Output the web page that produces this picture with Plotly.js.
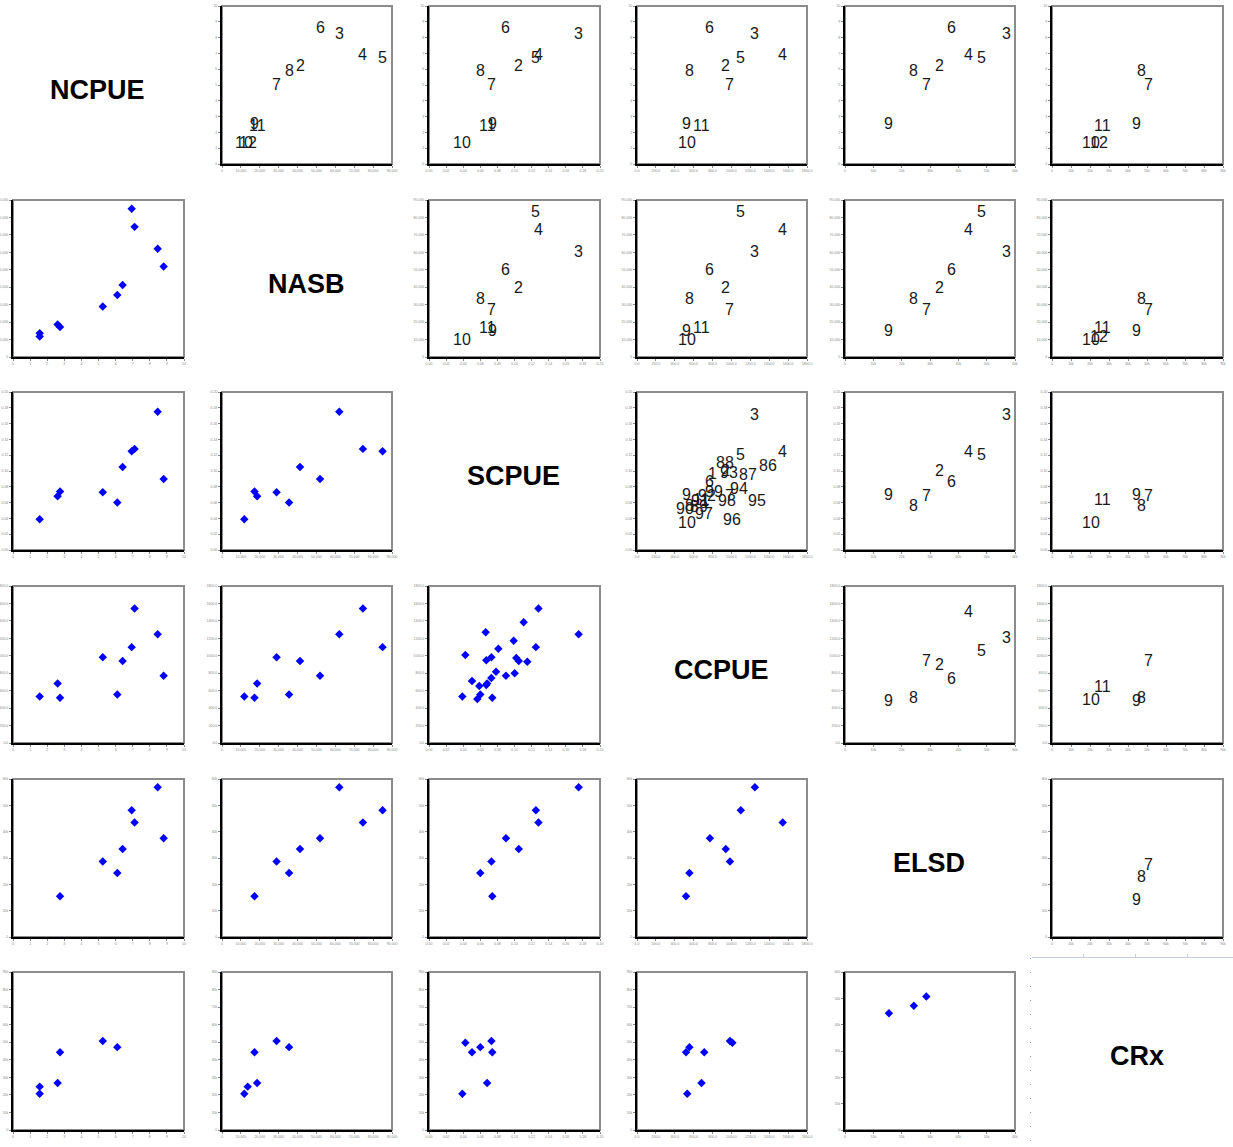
<!DOCTYPE html>
<html><head><meta charset="utf-8">
<script src="https://cdn.plot.ly/plotly-3.0.1.min.js"></script>
<style>html,body{margin:0;padding:0;background:#fff}#chart{width:1233px;height:1147px}</style>
</head><body><div id="chart"></div>
<script>
// observation labels (years)
const years = ['86','87','88','89','90','91','92','93','94','95','96','97','98','99','1','2','3','4','5','6','7','8','9','10','11','12'];
//                86     87     88     89     90     91     92     93     94     95     96     97     98     99     1      2      3      4      5      6      7      8      9      10     11     12
const NCPUE = [null,  null,  null,  null,  null,  null,  null,  null,  null,  null,  null,  null,  null,  null,  null,  6.41,  8.46,  7.11,  6.94,  8.81,  5.25,  6.10,  2.75,  1.56,  2.61,  1.56];
const NASB  = [null,  null,  null,  null,  null,  null,  null,  null,  null,  null,  null,  null,  null,  null,  null,  41300, 62100, 74600, 85000, 51900, 28900, 35500, 17200, 11800, 18600, 13600];
const SCPUE = [0.1107,0.0990,0.1150,0.0588,0.0565,0.0670,0.0729,0.1021,0.0811,0.0663,0.0425,0.0503,0.0670,0.0784,0.1002,0.105, 0.175, 0.128, 0.125, 0.090, 0.073, 0.060, 0.074, 0.039, 0.068, null];
const CCPUE = [1384,  1173,  932,   653,   504,   665,   745,   974,   1081,  1269,  1010,  712,   948,   817,   799,   940,   1248,  1543,  1099,  772,   984,   555,   519,   532,   683,   null];
const ELSD  = [null,  null,  null,  null,  null,  null,  null,  null,  null,  null,  null,  null,  null,  null,  null,  33400, 56900, 43500, 48100, 37500, 28700, 24300, 15500, null,  null,  null];
const CRx   = [null,  null,  null,  null,  null,  null,  null,  null,  null,  null,  49700, 44300, null,  null,  null,  null,  null,  null,  null,  null,  50700, 47200, 44300, 20700, 26800, 24700];
// years whose CRx value is plotted in the lower panels but not labelled in the upper panels
const crxUnlabelled = ['96','97'];

const varNames = ['NCPUE','NASB','SCPUE','CCPUE','ELSD','CRx'];
const vars = [NCPUE, NASB, SCPUE, CCPUE, ELSD, CRx];
const axisSpec = [
  {range:[0,10],    dtick:1,     fmt:''},
  {range:[0,90000], dtick:10000, fmt:','},
  {range:[0,0.2],   dtick:0.02,  fmt:'.2f'},
  {range:[0,1800],  dtick:200,   fmt:'.1f'},
  {range:[0,60000], dtick:10000, fmt:''},
  {range:[0,90000], dtick:10000, fmt:''}
];

const W = 1233, H = 1147;
const colL = [13,222,429,637,845,1052], colR = [184,392,600,807,1015,1223];
const rowT = [6,200,392,586,779,972],   rowB = [164,357,550,743,937,1130];

const traces = [];
const layout = {
  width: W, height: H, margin:{l:0,r:0,t:0,b:0},
  paper_bgcolor:'#ffffff', plot_bgcolor:'#ffffff',
  showlegend:false, shapes:[], annotations:[]
};

function axisBase(spec){
  return {
    range: spec.range.slice(), dtick: spec.dtick, tick0:0, tickformat: spec.fmt,
    showgrid:false, zeroline:false, showline:true, linecolor:'#000000', linewidth:2,
    ticks:'outside', ticklen:2, tickwidth:1, tickcolor:'#888888',
    tickfont:{size:3.5, color:'#888888', family:'Liberation Sans, Arial, sans-serif'},
    fixedrange:true
  };
}

const labelFont = {family:'Liberation Sans, Arial, sans-serif', size:16, color:'#1a1a1a'};

for (let i = 0; i < 6; i++) {
  for (let j = 0; j < 6; j++) {
    if (i === j) continue;
    const n = i*6 + j + 1;
    const xs = n === 1 ? '' : String(n);
    const xa = axisBase(axisSpec[j]);
    xa.domain = [colL[j]/W, colR[j]/W];
    xa.anchor = 'y' + xs;
    let yspec = axisSpec[i];
    if (i === 5 && j === 4) yspec = {range:[0,60000], dtick:10000, fmt:''};
    const ya = axisBase(yspec);
    ya.domain = [1 - rowB[i]/H, 1 - rowT[i]/H];
    ya.anchor = 'x' + xs;
    layout['xaxis' + xs] = xa;
    layout['yaxis' + xs] = ya;
    // grey frame (top / right borders)
    layout.shapes.push({type:'rect', xref:'x'+xs+' domain', yref:'y'+xs+' domain',
      x0:0, x1:1, y0:0, y1:1, line:{color:'#8c8c8c', width:2}, layer:'below'});

    const X = [], Y = [], T = [];
    const upper = i < j;
    for (let k = 0; k < years.length; k++) {
      const xv = vars[j][k], yv = vars[i][k];
      if (xv === null || yv === null) continue;
      if (upper && (i === 5 || j === 5) && crxUnlabelled.includes(years[k])) continue;
      X.push(xv); Y.push(yv); T.push(years[k]);
    }
    if (upper) {
      // invisible anchor trace so the panel exists, labels drawn as axis-referenced annotations
      traces.push({type:'scatter', mode:'markers', x:X, y:Y, marker:{size:1, opacity:0},
        xaxis:'x'+xs, yaxis:'y'+xs, hoverinfo:'skip'});
      for (let k = 0; k < X.length; k++) {
        layout.annotations.push({xref:'x'+xs, yref:'y'+xs, x:X[k], y:Y[k], text:T[k],
          showarrow:false, xanchor:'center', yanchor:'middle', yshift:-3,
          font:labelFont});
      }
    } else {
      traces.push({type:'scatter', mode:'markers', x:X, y:Y, text:T,
        marker:{symbol:'diamond', size:6.5, color:'#0000ff', line:{width:0}},
        xaxis:'x'+xs, yaxis:'y'+xs, hoverinfo:'skip'});
    }
  }
}

// diagonal titles
for (let i = 0; i < 6; i++) {
  layout.annotations.push({
    xref:'paper', yref:'paper',
    x: ((colL[i]+colR[i])/2 - 1)/W, y: 1 - ((rowT[i]+rowB[i])/2 + 5)/H,
    text:'<b>'+varNames[i]+'</b>', showarrow:false, xanchor:'center', yanchor:'middle',
    font:{family:'Liberation Sans, Arial, sans-serif', size:27, color:'#000000'}
  });
}

// faint stray axis in the bottom-right cell
layout.xaxis37 = {domain:[1032/W, 1], range:[0, 201/51.7], side:'top', anchor:'y37',
  showline:true, linecolor:'#c6cfe0', linewidth:1, ticks:'outside', ticklen:3, tickcolor:'#c6cfe0',
  tickvals:[1,2,3], showticklabels:false, showgrid:false, zeroline:false, fixedrange:true};
layout.yaxis37 = {domain:[1 - 1140/H, 1 - 958/H], range:[0,13], anchor:'x37', side:'left',
  showline:false, ticks:'outside', ticklen:1, tickwidth:1, tickcolor:'#9a9a9a', dtick:1, tick0:0,
  showticklabels:false, showgrid:false, zeroline:false, fixedrange:true};
traces.push({type:'scatter', mode:'markers', x:[], y:[], xaxis:'x37', yaxis:'y37', hoverinfo:'skip'});

Plotly.newPlot('chart', traces, layout, {displayModeBar:false, staticPlot:true});
</script>
</body></html>
